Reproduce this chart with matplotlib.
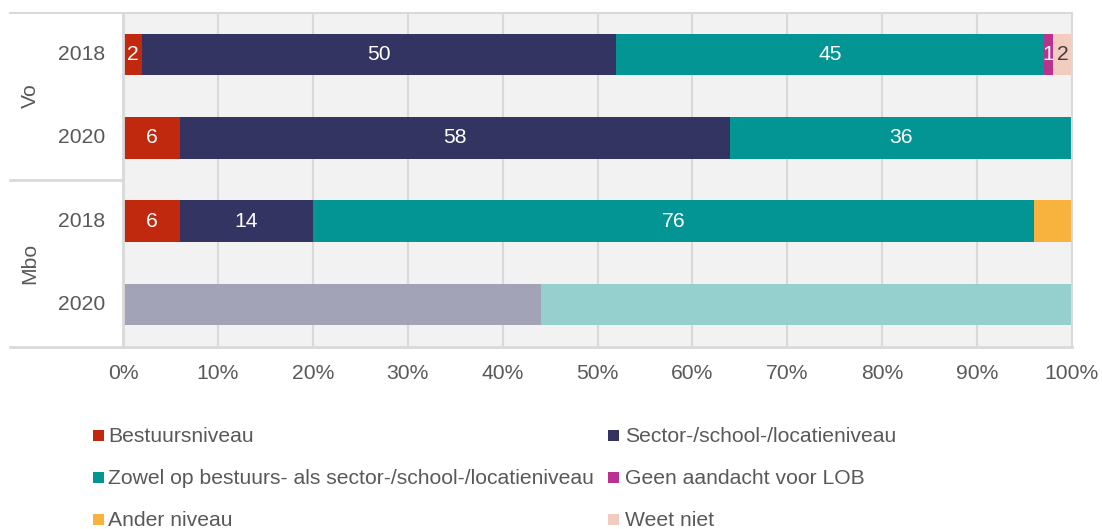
import matplotlib
matplotlib.use("Agg")
import matplotlib.pyplot as plt
from matplotlib.patches import Rectangle
from matplotlib.lines import Line2D
import numpy as np

plt.rcParams['font.family'] = ['Liberation Sans', 'DejaVu Sans']

groups = ["Vo", "Vo", "Mbo", "Mbo"]
years = ["2018", "2020", "2018", "2020"]
series = ["Bestuursniveau", "Sector-/school-/locatieniveau",
          "Zowel op bestuurs- als sector-/school-/locatieniveau",
          "Geen aandacht voor LOB", "Ander niveau", "Weet niet"]
colors = ["#C0290D", "#343462", "#039594", "#B8328E", "#F8B23E", "#F2CDBF"]
faded = ["#E09A8C", "#A3A3B8", "#95CFCE", "#DB98C6", "#FBD89E", "#F8E6DF"]
# values per row (Vo 2018, Vo 2020, Mbo 2018, Mbo 2020)
bestuurs = [2, 6, 6, 0]
sector = [50, 58, 14, 44]
zowel = [45, 36, 76, 56]
geen = [1, 0, 0, 0]
ander = [0, 0, 4, 0]
weet = [2, 0, 0, 0]
label_show_series = [[1, 1, 1, 1, 0, 1], [1, 1, 1, 0, 0, 0], [1, 1, 1, 0, 0, 0], [0] * 6]

data = np.array([bestuurs, sector, zowel, geen, ander, weet])  # series x rows

FS = 15.2
W, H = 1102, 529
fig = plt.figure(figsize=(W / 100, H / 100), dpi=100)
x0, x1, y0, y1 = 123, 1072, 13, 346
ax = fig.add_axes([x0 / W, 1 - y1 / H, (x1 - x0) / W, (y1 - y0) / H])
ax.set_facecolor("#F2F2F2")
ax.set_xlim(0, 1)
ax.set_ylim(3.5, -0.5)

txtc = "#595959"
for g in np.arange(0.1, 1.0, 0.1):
    ax.axvline(g, color="#D9D9D9", lw=1.5, zorder=0.5)

nrows = len(years)
for r in range(nrows):
    left = 0.0
    for s in range(len(series)):
        v = data[s, r] / 100
        if v <= 0:
            continue
        col = faded[s] if r == 3 else colors[s]
        ax.barh(r, v, left=left, height=0.5, color=col, edgecolor="none", zorder=2)
        if label_show_series[r][s]:
            tc = "#404040" if s == 5 else "white"
            ax.text(left + v / 2, r, str(data[s, r]), ha="center", va="center",
                    color=tc, fontsize=FS, zorder=3)
        left += v

for sp in ax.spines.values():
    sp.set_visible(False)
ax.set_yticks([])
ax.set_xticks(np.arange(0, 1.01, 0.1))
ax.set_xticklabels([f"{int(round(t*100))}%" for t in np.arange(0, 1.01, 0.1)],
                   fontsize=FS, color=txtc)
ax.tick_params(axis="x", length=0, pad=13)

# frame lines
lc = "#D9D9D9"
def fline(xa, ya, xb, yb, lw=2):
    fig.add_artist(Line2D([xa / W, xb / W], [1 - ya / H, 1 - yb / H], color=lc, lw=lw))

fline(10, y0, x1, y0, 1.5)
fline(10, 180, x0, 180)
fline(10, y1 + 1, x1, y1 + 1)
fline(x0, y0, x0, y1 + 1)
fline(x1, y0, x1, y1 + 1, 1.5)

# category labels
for r in range(nrows):
    yc = y0 + (r + 0.5) * (y1 - y0) / nrows
    fig.text(105 / W, 1 - yc / H, years[r], ha="right", va="center", fontsize=FS, color=txtc)
fig.text(30 / W, 1 - 96 / H, "Vo", rotation=90, ha="center", va="center", fontsize=FS, color=txtc)
fig.text(30 / W, 1 - 263 / H, "Mbo", rotation=90, ha="center", va="center", fontsize=FS, color=txtc)

# legend
leg_pos = [(93, 436), (608, 436), (93, 478), (608, 478), (93, 520), (608, 520)]
for i, ((lx, ly), name, c) in enumerate(zip(leg_pos, series, colors)):
    fig.add_artist(Rectangle((lx / W, 1 - (ly + 5) / H), 11 / W, 11 / H,
                             transform=fig.transFigure, color=c, lw=0))
    off = 15 if i % 2 == 0 else 17
    fig.text((lx + off) / W, 1 - ly / H, name, ha="left", va="center",
             fontsize=FS, color=txtc)

fig.savefig("out.png", dpi=100, facecolor="white")
